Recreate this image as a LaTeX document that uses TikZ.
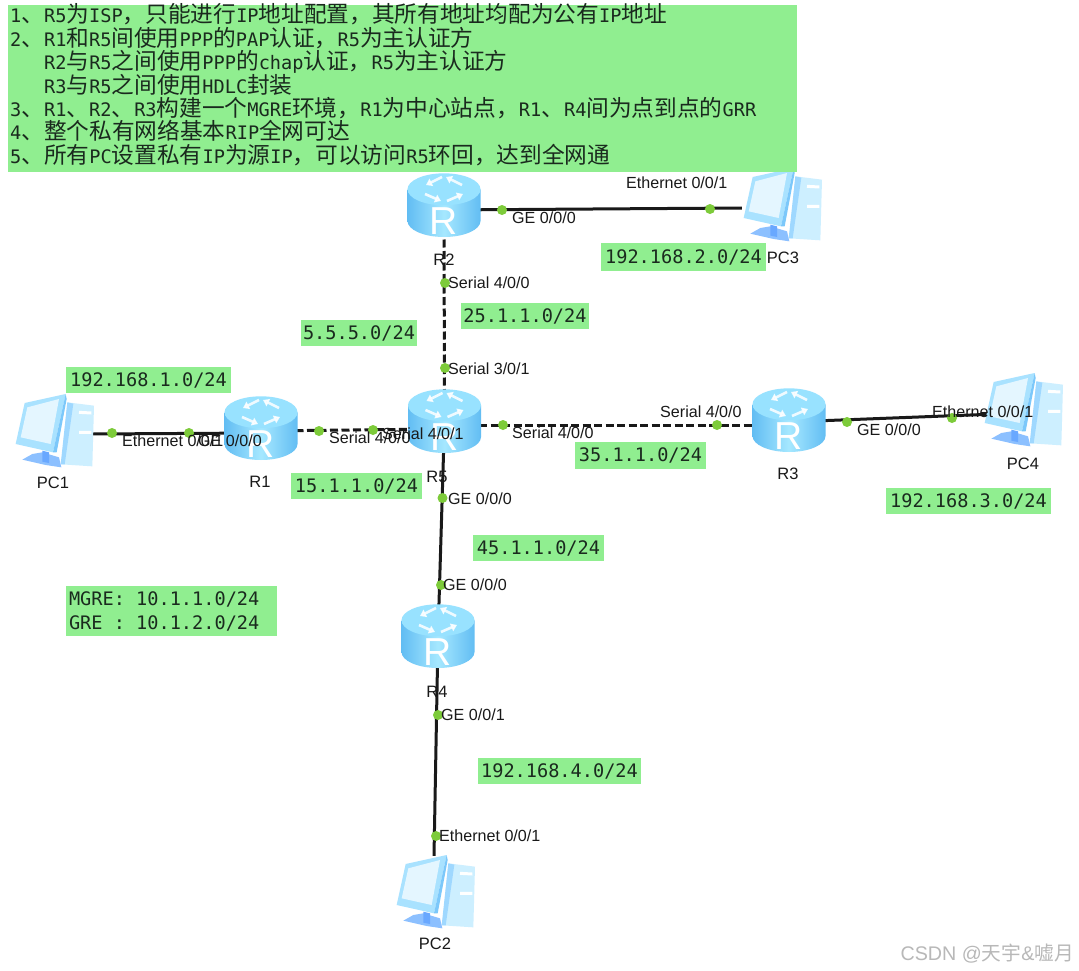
\documentclass[tikz,border=0pt]{standalone}
\usepackage{fontspec}
\usetikzlibrary{backgrounds,arrows.meta}
\setmainfont{Liberation Sans}
\newfontfamily\cjkf{Noto Sans CJK SC}
\newfontfamily\monof{DejaVu Sans Mono}
\newcommand\C[1]{{\fontsize{22.7}{23.4}\selectfont\cjkf #1}}
\newcommand\MS{\hspace*{11.2pt}}
\definecolor{boxgreen}{HTML}{90EE90}
\definecolor{dotgreen}{HTML}{7DCB3A}
\definecolor{inkc}{HTML}{1A2A1E}
\definecolor{rside}{HTML}{62BDF3}
\definecolor{rmid}{HTML}{A6E8FF}
\definecolor{rtop}{HTML}{98E2FF}
\definecolor{pcframe}{HTML}{A9E2FF}
\definecolor{pcedge}{HTML}{7CC8FA}
\definecolor{pcscreen}{HTML}{E4F6FF}
\definecolor{pctower}{HTML}{CDEFFF}
\definecolor{pctowerb}{HTML}{9FD8FF}
\definecolor{pcbase}{HTML}{8CC0FF}
\definecolor{pcneck}{HTML}{69A8FF}
\tikzset{
  x=1pt,y=-1pt,
  link/.style={line width=3pt,black!90},
  seriallink/.style={link,dash pattern=on 8pt off 3.5pt},
  portdot/.style={circle,fill=dotgreen,draw=none,minimum size=10pt,inner sep=0pt},
  portlabel/.style={anchor=west,inner sep=0pt,text=black!90,font=\fontsize{16.1}{18}\selectfont},
  devname/.style={inner sep=0pt,text=black!90,font=\fontsize{16.5}{18}\selectfont},
  netbox/.style={fill=boxgreen,inner sep=0pt,text=inkc,font=\fontsize{18.6}{24}\selectfont\monof},
  devslot/.style={draw=none,fill=none,inner sep=0pt,minimum width=72pt,minimum height=64pt},
  pcslot/.style={draw=none,fill=none,inner sep=0pt,minimum width=78pt,minimum height=78pt},
  routerpic/.pic={
    \shade[left color=rside,right color=rside,middle color=rmid]
      (-36.5,-15.7) -- (-36.5,16) arc[start angle=180,end angle=0,x radius=36.5,y radius=16]
      -- (36.5,-15.7) -- cycle;
    \fill[rtop] (0,-15.7) ellipse[x radius=36.5,y radius=16];
    \foreach \a/\b/\c/\d in {-2/-28/-18/-20,-19/-11/-3/-4,3/-4/19/-11,18/-20/2/-28}{
      \draw[white,line width=2.6pt,opacity=.85,-{Triangle[length=6pt,width=8pt]}] (\a,\b) -- (\c,\d);
    }
    \node[white,inner sep=0pt,font=\fontsize{39}{39}\selectfont] at (0,16) {R};
  },
  pcpic/.pic={
    \begin{scope}[scale=1/3,shift={(-147,-135)}]
      \fill[pctower] (190,40) -- (270,50) -- (265,232) -- (172,226) -- cycle;
      \fill[pctowerb] (190,40) -- (208,44) -- (182,226) -- (170,226) -- cycle;
      \draw[white,line width=3pt] (225,70) -- (262,72) (225,130) -- (262,130);
      \fill[pcbase] (55,212) -- (85,195) -- (115,190) -- (165,205) -- (172,235) -- (125,228) -- cycle;
      \fill[pcneck] (115,185) -- (135,190) -- (135,222) -- (115,218) -- cycle;
      \fill[pcframe] (62,42) -- (185,15) -- (147,190) -- (35,165) -- cycle;
      \fill[pcedge] (147,190) -- (185,15) -- (188,30) -- (158,190) -- cycle;
      \fill[pcscreen] (70,55) -- (165,30) -- (140,165) -- (50,145) -- cycle;
    \end{scope}
  }
}
\begin{document}
\begin{tikzpicture}
\path[use as bounding box] (0,0) rectangle (1079,971);

% devices (anchors)
\node[devslot] (R1) at (261,428) {};
\node[devslot] (R2) at (444,205) {};
\node[devslot] (R3) at (789,420) {};
\node[devslot] (R4) at (438,636) {};
\node[devslot] (R5) at (444.5,421) {};
\node[pcslot] (PC1) at (53,434) {};
\node[pcslot] (PC2) at (434,895) {};
\node[pcslot] (PC3) at (781,208) {};
\node[pcslot] (PC4) at (1022,413) {};

% connectors
\begin{scope}[on background layer]
  \fill[white] (0,0) rectangle (1079,971);
  \draw[link] ([yshift=-5pt]R2.center) -- (PC3.west);
  \draw[seriallink] (R2.center) -- (R5.center);
  \draw[link] ([yshift=-5pt]R1.center) -- (PC1.east);
  \draw[seriallink] ([yshift=-3pt]R1.center) -- ([yshift=-8pt]R5.center);
  \draw[seriallink] ([yshift=-4pt]R5.center) -- ([yshift=-5pt]R3.center);
  \draw[link] ([yshift=-2pt]R3.center) -- (PC4.center);
  \draw[link] (R5.center) -- (R4.center);
  \draw[link] (R4.center) -- (PC2.north);
\end{scope}

% icons
\pic at (R1) {routerpic};
\pic at (R2) {routerpic};
\pic at (R3) {routerpic};
\pic at (R4) {routerpic};
\pic at (R5) {routerpic};
\pic at (PC1) {pcpic};
\pic at (PC2) {pcpic};
\pic at (PC3) {pcpic};
\pic at (PC4) {pcpic};

% port dots
\node[portdot] (d1) at (112,433) {};
\node[portdot] (d2) at (189,433) {};
\node[portdot] (d3) at (319,431) {};
\node[portdot] (d4) at (373,430) {};
\node[portdot] (d5) at (502,210) {};
\node[portdot] (d6) at (710,209) {};
\node[portdot] (d7) at (445,283) {};
\node[portdot] (d8) at (445,368) {};
\node[portdot] (d9) at (503,425) {};
\node[portdot] (d10) at (717,425) {};
\node[portdot] (d11) at (847,422) {};
\node[portdot] (d12) at (952,418) {};
\node[portdot] (d13) at (442.5,498) {};
\node[portdot] (d14) at (441,585) {};
\node[portdot] (d15) at (438,715) {};
\node[portdot] (d16) at (436,836) {};

% port labels
\node[portlabel] (p1) at (122,441) {Ethernet 0/0/1};
\node[portlabel] (p2) at (198,441) {GE 0/0/0};
\node[portlabel] (p3) at (329,438) {Serial 4/0/0};
\node[portlabel] (p4) at (382,434) {Serial 4/0/1};
\node[portlabel] (p5) at (512,218) {GE 0/0/0};
\node[portlabel] (p6) at (626,183) {Ethernet 0/0/1};
\node[portlabel] (p7) at (448,283) {Serial 4/0/0};
\node[portlabel] (p8) at (448,369) {Serial 3/0/1};
\node[portlabel] (p9) at (512,433) {Serial 4/0/0};
\node[portlabel] (p10) at (660,412) {Serial 4/0/0};
\node[portlabel] (p11) at (857,430) {GE 0/0/0};
\node[portlabel] (p12) at (932,412) {Ethernet 0/0/1};
\node[portlabel] (p13) at (448,499) {GE 0/0/0};
\node[portlabel] (p14) at (443,585) {GE 0/0/0};
\node[portlabel] (p15) at (441,715) {GE 0/0/1};
\node[portlabel] (p16) at (439,836) {Ethernet 0/0/1};

% device names
\node[devname] (nR1) at (260,482) {R1};
\node[devname] (nR2) at (444,260) {R2};
\node[devname] (nR3) at (788,474) {R3};
\node[devname] (nR4) at (437,692) {R4};
\node[devname] (nR5) at (437,477) {R5};
\node[devname] (nPC1) at (53,483) {PC1};
\node[devname] (nPC2) at (435,944) {PC2};
\node[devname] (nPC3) at (783,258) {PC3};
\node[devname] (nPC4) at (1023,464) {PC4};

% network labels
\node[netbox,minimum width=165pt,minimum height=26pt] (n1) at (148.5,380) {192.168.1.0/24};
\node[netbox,minimum width=165pt,minimum height=28pt] (n2) at (683.5,257) {192.168.2.0/24};
\node[netbox,minimum width=165pt,minimum height=26pt] (n3) at (968.5,501) {192.168.3.0/24};
\node[netbox,minimum width=163pt,minimum height=26pt] (n4) at (559.5,771) {192.168.4.0/24};
\node[netbox,minimum width=128pt,minimum height=26pt] (n5) at (525,316) {25.1.1.0/24};
\node[netbox,minimum width=116pt,minimum height=26pt] (n6) at (359,333) {5.5.5.0/24};
\node[netbox,minimum width=131pt,minimum height=26pt] (n7) at (356.5,486) {15.1.1.0/24};
\node[netbox,minimum width=131pt,minimum height=27pt] (n8) at (640.5,455.5) {35.1.1.0/24};
\node[netbox,minimum width=131pt,minimum height=26pt] (n9) at (538.5,548) {45.1.1.0/24};
\node[netbox,inner xsep=3pt,text width=205pt,minimum height=50pt,align=left] (n10) at (171.5,611) {MGRE:\MS 10.1.1.0/24\\GRE\MS:\MS 10.1.2.0/24};

% task list
\node[fill=boxgreen,anchor=north west,inner sep=0pt,minimum width=789pt,minimum height=167pt] (taskbox) at (8,5) {};
\node[anchor=north west,inner xsep=2pt,inner ysep=0pt,minimum height=167pt,
      text width=785pt,align=left,text=inkc,font=\fontsize{18.6}{23.4}\selectfont\monof] (task) at (8,1)
{\lineskiplimit=-100pt
1\C{、}R5\C{为}ISP\C{，只能进行}IP\C{地址配置，其所有地址均配为公有}IP\C{地址}\\
2\C{、}R1\C{和}R5\C{间使用}PPP\C{的}PAP\C{认证，}R5\C{为主认证方}\\
\hspace*{34pt}R2\C{与}R5\C{之间使用}PPP\C{的}chap\C{认证，}R5\C{为主认证方}\\
\hspace*{34pt}R3\C{与}R5\C{之间使用}HDLC\C{封装}\\
3\C{、}R1\C{、}R2\C{、}R3\C{构建一个}MGRE\C{环境，}R1\C{为中心站点，}R1\C{、}R4\C{间为点到点的}GRR\\
4\C{、整个私有网络基本}RIP\C{全网可达}\\
5\C{、所有}PC\C{设置私有}IP\C{为源}IP\C{，可以访问}R5\C{环回，达到全网通}};

% watermark
\node[anchor=east,inner sep=0pt,text=black!28,font=\fontsize{19.7}{22}\selectfont] (mark) at (1074,954) {CSDN @{\cjkf 天宇}\&{\cjkf 嘘月}};
\end{tikzpicture}
\end{document}
